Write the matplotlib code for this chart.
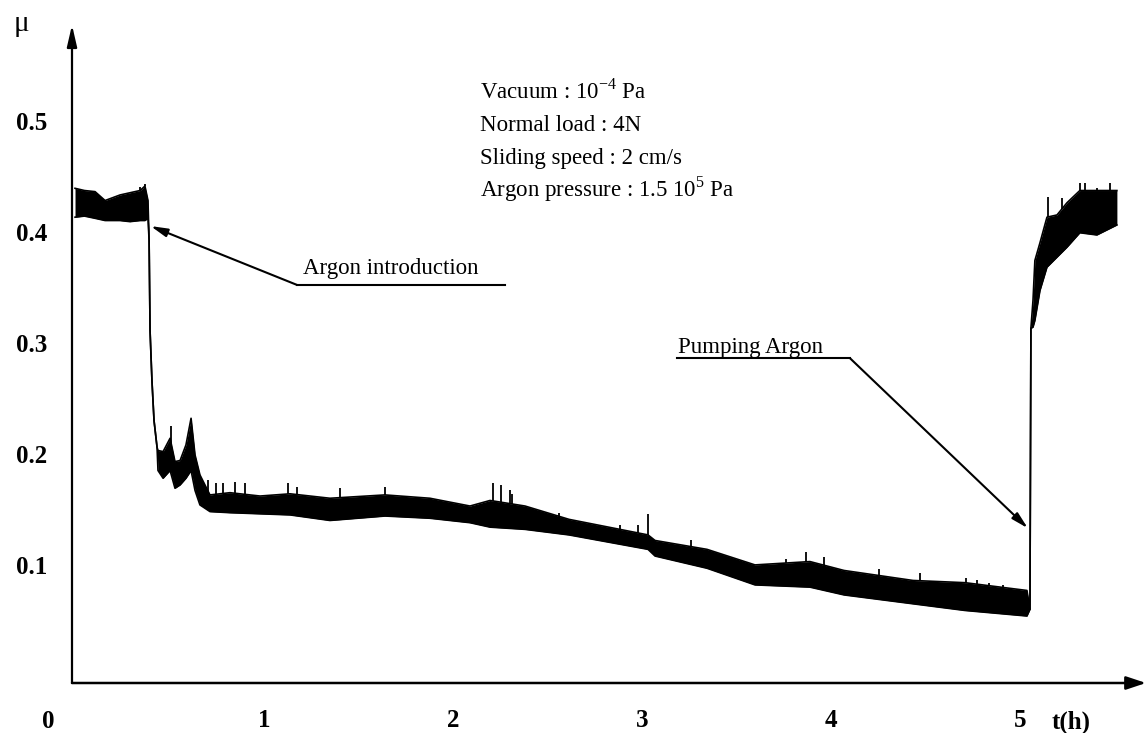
import numpy as np
import matplotlib.pyplot as plt

plt.rcParams['font.family'] = ['Liberation Serif', 'DejaVu Serif']
plt.rcParams['mathtext.fontset'] = 'custom'
plt.rcParams['mathtext.rm'] = 'Liberation Serif'

t_h = [0.000, 0.050, 0.106, 0.159, 0.238, 0.291, 0.344, 0.370, 0.386,
       0.392, 0.397, 0.407, 0.418, 0.434,
       0.439, 0.466, 0.503, 0.529, 0.556, 0.587, 0.614, 0.635, 0.661,
       0.714, 0.820, 0.979, 1.138, 1.349, 1.640, 1.878, 2.090, 2.196,
       2.381, 2.614, 3.032, 3.069, 3.344, 3.598, 3.889, 4.069, 4.434,
       4.709, 5.037,
       5.053, 5.058,
       5.069, 5.079, 5.106, 5.143, 5.196, 5.249, 5.317, 5.407, 5.513]
mu_low = [0.413, 0.414, 0.412, 0.410, 0.410, 0.409, 0.410, 0.410, 0.412,
          0.392, 0.311, 0.266, 0.230, 0.206,
          0.185, 0.178, 0.185, 0.169, 0.172, 0.178, 0.185, 0.167, 0.154,
          0.148, 0.147, 0.146, 0.145, 0.140, 0.144, 0.142, 0.138, 0.134,
          0.132, 0.127, 0.114, 0.108, 0.097, 0.082, 0.080, 0.073, 0.065,
          0.059, 0.054,
          0.060, 0.313,
          0.314, 0.320, 0.347, 0.368, 0.377, 0.386, 0.399, 0.397, 0.406]
mu_high = [0.439, 0.437, 0.436, 0.428, 0.433, 0.435, 0.437, 0.441, 0.428,
           0.392, 0.311, 0.266, 0.230, 0.206,
           0.203, 0.202, 0.214, 0.193, 0.194, 0.208, 0.232, 0.199, 0.181,
           0.163, 0.165, 0.162, 0.164, 0.160, 0.163, 0.160, 0.153, 0.158,
           0.153, 0.141, 0.127, 0.122, 0.114, 0.100, 0.103, 0.095, 0.086,
           0.084, 0.077,
           0.060, 0.313,
           0.338, 0.374, 0.390, 0.413, 0.415, 0.426, 0.437, 0.437, 0.437]

# isolated spikes sticking out of the band
spike_t = [0.344, 0.370, 0.508, 0.704, 0.746, 0.783, 0.847, 0.899, 1.127,
           1.175, 1.402, 1.640, 2.212, 2.254, 2.302, 2.312, 2.561, 2.884,
           2.979, 3.032, 3.259, 3.762, 3.868, 3.963, 4.254, 4.471, 4.714,
           4.772, 4.836, 4.910, 5.148, 5.222, 5.317, 5.344, 5.407, 5.476]
spike_mu = [0.440, 0.443, 0.225, 0.176, 0.174, 0.174, 0.175, 0.174, 0.174,
            0.170, 0.169, 0.170, 0.174, 0.172, 0.167, 0.164, 0.147, 0.136,
            0.136, 0.146, 0.122, 0.105, 0.112, 0.107, 0.096, 0.093, 0.088,
            0.086, 0.084, 0.082, 0.431, 0.430, 0.444, 0.444, 0.439, 0.444]

x_ticks = [1, 2, 3, 4, 5]
y_ticks = [0.1, 0.2, 0.3, 0.4, 0.5]
conditions = [r"Vacuum : 10$^{-4}$ Pa",
              "Normal load : 4N",
              "Sliding speed : 2 cm/s",
              r"Argon pressure : 1.5 10$^{5}$ Pa"]

fig = plt.figure(figsize=(11.46, 7.33), dpi=100)
ax = fig.add_axes([72 / 1146, 50 / 733, 1074 / 1146, 658 / 733])
ax.set_xlim(-0.016, 5.667)
ax.set_ylim(-0.0063, 0.586)

# trace
ax.fill_between(t_h, mu_low, mu_high, color='black', lw=0)
ax.plot(t_h, mu_low, color='black', lw=1.2)
ax.plot(t_h, mu_high, color='black', lw=1.2)
base = np.interp(spike_t, t_h, mu_high)
ax.vlines(spike_t, base, spike_mu, color='black', lw=1.3)

# axes drawn as arrows
for s in ax.spines.values():
    s.set_visible(False)
ax.annotate('', xy=(0, 1), xytext=(0, 0), xycoords='axes fraction',
            arrowprops=dict(arrowstyle='-|>,head_length=1.3,head_width=0.3',
                            color='black', lw=1.6, shrinkA=0, shrinkB=0))
ax.annotate('', xy=(1, 0), xytext=(0, 0), xycoords='axes fraction',
            arrowprops=dict(arrowstyle='-|>,head_length=1.2,head_width=0.4',
                            color='black', lw=1.8, shrinkA=0, shrinkB=0))

ax.set_xticks(x_ticks)
ax.set_xticklabels([str(v) for v in x_ticks], fontsize=18, fontweight='bold')
ax.set_yticks(y_ticks)
ax.set_yticklabels([str(v) for v in y_ticks], fontsize=18, fontweight='bold')
ax.tick_params(axis='x', length=0, pad=19)
ax.tick_params(axis='y', length=0, pad=18)

ax.text(-0.143, -0.031, '0', fontsize=18, fontweight='bold', ha='center', va='top')
ax.text(5.27, -0.031, 't(h)', fontsize=18, fontweight='bold', ha='center', va='top')
fig.text(21 / 1146, 1 - 24 / 733, '\u03bc', fontsize=21, ha='center', va='center')

# test conditions
for i, line in enumerate(conditions):
    ax.text(2.143, 0.520 - 0.0295 * i, line, fontsize=16.5, va='baseline')

# annotations
ax.text(1.206, 0.362, 'Argon introduction', fontsize=16.5, va='baseline')
ax.plot([1.175, 2.275], [0.352, 0.352], color='black', lw=1.5)
ax.annotate('', xy=(0.40, 0.405), xytext=(1.175, 0.352),
            arrowprops=dict(arrowstyle='-|>,head_length=1.0,head_width=0.25',
                            color='black', lw=1.5, shrinkA=0, shrinkB=0))

ax.text(3.19, 0.291, 'Pumping Argon', fontsize=16.5, va='baseline')
ax.plot([3.185, 4.101], [0.286, 0.286], color='black', lw=1.5)
ax.annotate('', xy=(5.042, 0.133), xytext=(4.101, 0.286),
            arrowprops=dict(arrowstyle='-|>,head_length=1.0,head_width=0.25',
                            color='black', lw=1.5, shrinkA=0, shrinkB=0))

fig.savefig('out.png', dpi=100)
